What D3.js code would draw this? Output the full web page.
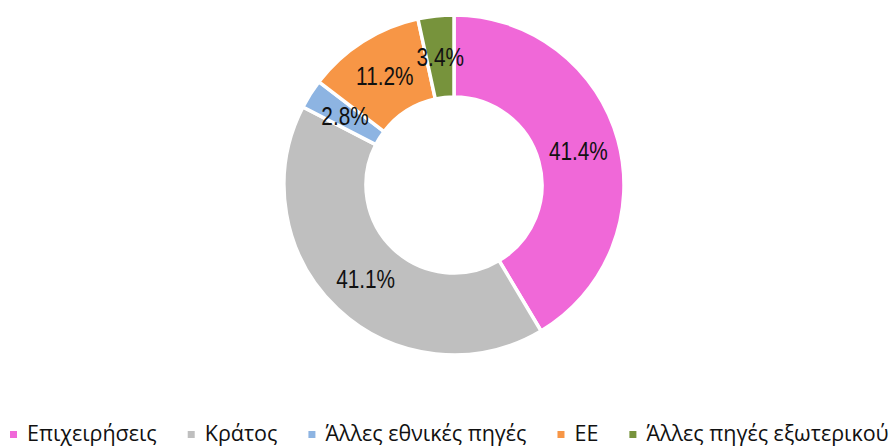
<!DOCTYPE html>
<html>
<head>
<meta charset="utf-8">
<script src="https://cdn.jsdelivr.net/npm/d3@7"></script>
<style>
    body { margin: 0; background: #fff; }
    svg { display: block; }
</style>
</head>
<body>
<script>
'use strict';

// categories, values and colours
const categories = ["Επιχειρήσεις", "Κράτος", "Άλλες εθνικές πηγές", "ΕΕ", "Άλλες πηγές εξωτερικού"];
const values = [41.4, 41.1, 2.8, 11.2, 3.4];
const colors = ["#F068D8", "#BFBFBF", "#8DB4E2", "#F79646", "#77933C"];

const width = 894, height = 447;
const cx = 454, cy = 185;
const outerR = 170, innerR = 88;

let svg = d3.select('body')
    .append('svg')
    .attr('width', width)
    .attr('height', height);

let rows = categories.map((c, i) => ({ name: c, value: values[i], color: colors[i] }));

let pie = d3.pie()
    .sort(null)
    .value((d) => d.value);

let arc = d3.arc()
    .innerRadius(innerR)
    .outerRadius(outerR);

let g = svg.append('g')
    .attr('transform', 'translate(' + cx + ',' + cy + ')');

let slices = pie(rows);

g.selectAll('path')
    .data(slices)
    .enter()
    .append('path')
    .attr('d', arc)
    .attr('fill', (d) => d.data.color)
    .attr('stroke', '#fff')
    .attr('stroke-width', 3.5)
    .attr('stroke-linejoin', 'miter');

// value labels sit on the middle of the ring, squeezed to look condensed
g.selectAll('.lbl')
    .data(slices)
    .enter()
    .append('g')
    .attr('class', 'lbl')
    .attr('transform', (d) => 'translate(' + arc.centroid(d) + ')')
    .append('text')
    .attr('transform', 'scale(0.8,1)')
    .attr('dy', '0.36em')
    .attr('text-anchor', 'middle')
    .style('font-family', '"Liberation Sans", Arial, sans-serif')
    .style('font-size', '26px')
    .style('fill', '#111')
    .text((d) => d.data.value.toFixed(1) + '%');

// legend along the bottom, items placed one after another
let legend = svg.append('g');
let x = 10;
rows.forEach((d) => {
    legend.append('rect')
        .attr('x', x)
        .attr('y', 431)
        .attr('width', 7)
        .attr('height', 7)
        .attr('fill', d.color);
    let t = legend.append('text')
        .attr('x', x + 17)
        .attr('y', 441)
        .style('font-family', '"Open Sans", "Noto Sans", sans-serif')
        .style('font-size', '21.5px')
        .style('fill', '#111')
        .text(d.name);
    x += 17 + t.node().getComputedTextLength() + 31;
});
</script>
</body>
</html>
